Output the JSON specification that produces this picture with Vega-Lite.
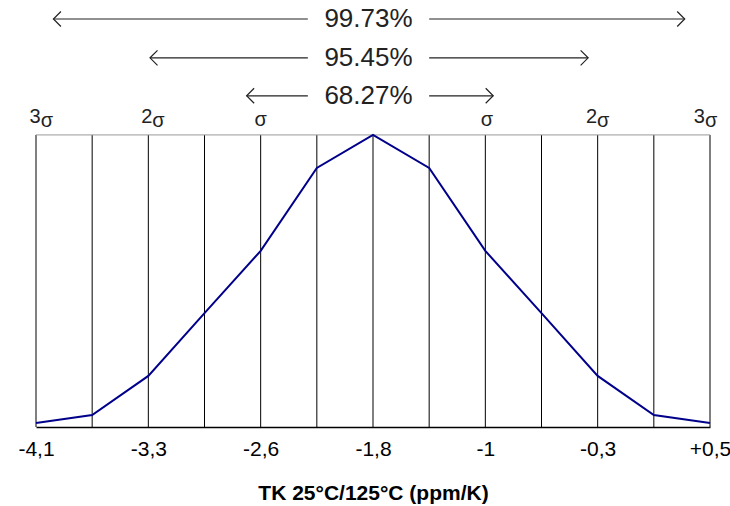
{
  "$schema": "https://vega.github.io/schema/vega-lite/v6.json",
  "width": 674,
  "height": 427,
  "autosize": {"type": "none"},
  "padding": {"left": 36, "top": 0, "right": 20, "bottom": 79},
  "background": "white",
  "config": {
    "view": {"stroke": null},
    "font": "Liberation Sans",
    "text": {"font": "Liberation Sans"}
  },
  "datasets": {
    "grid": [
      {"x": 0}, {"x": 1}, {"x": 2}, {"x": 3}, {"x": 4}, {"x": 5}, {"x": 6},
      {"x": 7}, {"x": 8}, {"x": 9}, {"x": 10}, {"x": 11}, {"x": 12}
    ],
    "curve": [
      {"x": 0, "y": 1.4}, {"x": 1, "y": 4.1}, {"x": 2, "y": 17.5}, {"x": 3, "y": 39.0},
      {"x": 4, "y": 60.3}, {"x": 5, "y": 88.7}, {"x": 6, "y": 100}, {"x": 7, "y": 88.7},
      {"x": 8, "y": 60.3}, {"x": 9, "y": 39.0}, {"x": 10, "y": 17.5}, {"x": 11, "y": 4.1},
      {"x": 12, "y": 1.4}
    ],
    "segments": [
      {"x": 0.31, "x2": 4.84, "y": 139.7},
      {"x": 7.0, "x2": 11.55, "y": 139.7},
      {"x": 2.03, "x2": 4.84, "y": 126.4},
      {"x": 7.0, "x2": 9.83, "y": 126.4},
      {"x": 3.75, "x2": 4.84, "y": 113.4},
      {"x": 7.0, "x2": 8.14, "y": 113.4}
    ],
    "heads": [
      {"x": 0.31, "y": 139.7, "dir": "left"},
      {"x": 11.55, "y": 139.7, "dir": "right"},
      {"x": 2.03, "y": 126.4, "dir": "left"},
      {"x": 9.83, "y": 126.4, "dir": "right"},
      {"x": 3.75, "y": 113.4, "dir": "left"},
      {"x": 8.14, "y": 113.4, "dir": "right"}
    ],
    "pct": [
      {"x": 5.92, "y": 139.7, "label": "99.73%"},
      {"x": 5.92, "y": 126.4, "label": "95.45%"},
      {"x": 5.92, "y": 113.4, "label": "68.27%"}
    ],
    "digits": [
      {"x": 0.084, "y": 104.1, "label": "3"},
      {"x": 2.07, "y": 104.1, "label": "2"},
      {"x": 9.99, "y": 104.1, "label": "2"},
      {"x": 11.91, "y": 104.1, "label": "3"}
    ],
    "lone": [
      {"x": 4.0, "y": 104.1, "label": "σ"},
      {"x": 8.03, "y": 104.1, "label": "σ"}
    ]
  },
  "layer": [
    {
      "data": {"name": "grid"},
      "mark": {"type": "rule", "color": "black", "strokeWidth": 1},
      "encoding": {
        "x": {
          "field": "x",
          "type": "quantitative",
          "scale": {"domain": [0, 12], "nice": false, "zero": false},
          "axis": {
            "values": [0, 2, 4, 6, 8, 10, 12],
            "labelExpr": "['-4,1','','-3,3','','-2,6','','-1,8','','-1','','-0,3','','+0,5'][datum.value]",
            "ticks": false,
            "grid": false,
            "domain": true,
            "domainColor": "black",
            "domainWidth": 1.5,
            "labelFont": "Liberation Sans",
            "labelFontSize": 21,
            "labelColor": "black",
            "labelPadding": 11,
            "labelFlush": false,
            "title": "TK 25°C/125°C (ppm/K)",
            "titleFont": "Liberation Sans",
            "titleFontSize": 21,
            "titleFontWeight": "bold",
            "titleColor": "black",
            "titlePadding": 23
          }
        },
        "y": {"datum": 0, "type": "quantitative", "scale": {"domain": [0, 146.2], "nice": false}, "axis": null},
        "y2": {"datum": 100}
      }
    },
    {
      "data": {"values": [{"x": 0, "x2": 12, "y": 100}]},
      "mark": {"type": "rule", "color": "#999999", "strokeWidth": 1},
      "encoding": {
        "x": {"field": "x", "type": "quantitative"},
        "x2": {"field": "x2"},
        "y": {"field": "y", "type": "quantitative"}
      }
    },
    {
      "data": {"name": "curve"},
      "mark": {"type": "line", "color": "#00008B", "strokeWidth": 2},
      "encoding": {
        "x": {"field": "x", "type": "quantitative"},
        "y": {"field": "y", "type": "quantitative"}
      }
    },
    {
      "data": {"name": "segments"},
      "mark": {"type": "rule", "color": "#222222", "strokeWidth": 1.2},
      "encoding": {
        "x": {"field": "x", "type": "quantitative"},
        "x2": {"field": "x2"},
        "y": {"field": "y", "type": "quantitative"}
      }
    },
    {
      "data": {"name": "heads"},
      "mark": {"type": "point", "filled": false, "stroke": "#222222", "strokeWidth": 1.2, "size": 225, "opacity": 1},
      "encoding": {
        "x": {"field": "x", "type": "quantitative"},
        "y": {"field": "y", "type": "quantitative"},
        "shape": {
          "field": "dir",
          "type": "nominal",
          "scale": {"domain": ["left", "right"], "range": ["M 1 -1 L 0 0 L 1 1", "M -1 -1 L 0 0 L -1 1"]},
          "legend": null
        }
      }
    },
    {
      "data": {"name": "pct"},
      "mark": {"type": "text", "fontSize": 26, "color": "#222222", "align": "center", "baseline": "middle"},
      "encoding": {
        "x": {"field": "x", "type": "quantitative"},
        "y": {"field": "y", "type": "quantitative"},
        "text": {"field": "label"}
      }
    },
    {
      "data": {"name": "digits"},
      "mark": {"type": "text", "fontSize": 20, "color": "#222222", "align": "right", "baseline": "alphabetic"},
      "encoding": {
        "x": {"field": "x", "type": "quantitative"},
        "y": {"field": "y", "type": "quantitative"},
        "text": {"field": "label"}
      }
    },
    {
      "data": {"name": "digits"},
      "mark": {"type": "text", "fontSize": 20, "color": "#222222", "align": "left", "baseline": "alphabetic", "dy": 4},
      "encoding": {
        "x": {"field": "x", "type": "quantitative"},
        "y": {"field": "y", "type": "quantitative"},
        "text": {"value": "σ"}
      }
    },
    {
      "data": {"name": "lone"},
      "mark": {"type": "text", "fontSize": 20, "color": "#222222", "align": "center", "baseline": "alphabetic", "dy": 3},
      "encoding": {
        "x": {"field": "x", "type": "quantitative"},
        "y": {"field": "y", "type": "quantitative"},
        "text": {"field": "label"}
      }
    }
  ]
}
